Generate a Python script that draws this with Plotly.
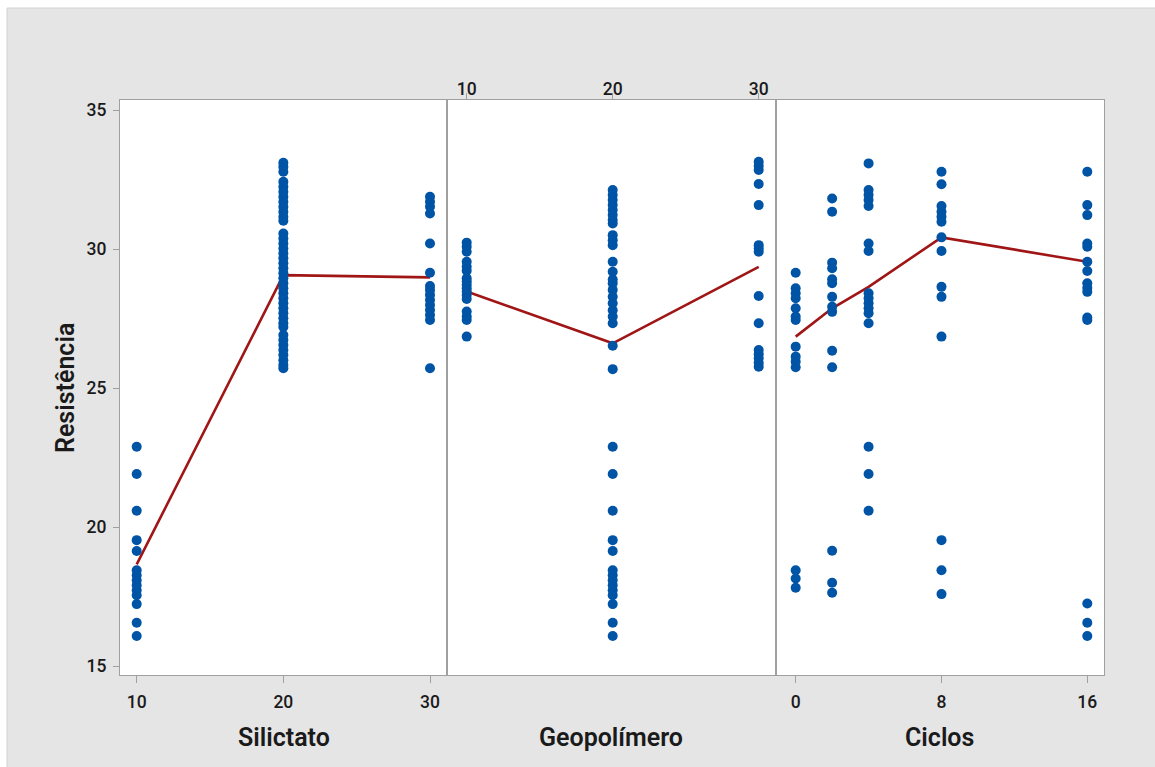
import plotly.graph_objects as go

# ---------------- data ----------------
silicato_levels = [10, 20, 30]
silicato_10 = [22.89, 21.91, 20.59, 19.53, 19.14, 18.45, 18.27, 18.09, 17.91, 17.73, 17.55, 17.23, 16.56, 16.08]
silicato_20 = [33.10, 32.96, 32.78, 32.42, 32.24, 32.06, 31.88, 31.70, 31.52, 31.34, 31.16, 31.02,
               30.56, 30.38, 30.20, 30.02, 29.84, 29.67, 29.49, 29.31, 29.13, 28.95, 28.77, 28.59,
               28.41, 28.23, 28.05, 27.87, 27.69, 27.51, 27.33, 27.20, 26.91, 26.73, 26.55, 26.37,
               26.19, 26.00, 25.83, 25.71]
silicato_30 = [31.88, 31.70, 31.52, 31.28, 30.20, 29.15, 28.67, 28.53, 28.35, 28.17, 27.99, 27.81,
               27.63, 27.45, 25.71]
silicato_means = [18.66, 29.06, 28.98]

geo_levels = [10, 20, 30]
geo_10 = [30.23, 30.08, 29.90, 29.54, 29.36, 29.22, 28.95, 28.83, 28.71, 28.59, 28.47, 28.35,
          28.20, 27.75, 27.57, 27.45, 26.85]
geo_20 = [32.12, 31.94, 31.76, 31.58, 31.40, 31.22, 31.04, 30.92, 30.50, 30.32, 30.14, 29.54,
          29.18, 28.90, 28.77, 28.53, 28.28, 28.05, 27.80, 27.57, 27.33, 26.52, 25.68, 22.89,
          21.91, 20.59, 19.53, 19.14, 18.45, 18.27, 18.09, 17.91, 17.73, 17.55, 17.23, 16.56, 16.08]
geo_30 = [33.14, 32.99, 32.84, 32.34, 31.58, 30.14, 30.02, 29.90, 28.31, 27.33, 26.37, 26.22,
          26.07, 25.91, 25.77]
geo_means = [28.47, 26.61, 29.36]

ciclos_levels = [0, 2, 4, 8, 16]
ciclos_0 = [29.15, 28.59, 28.41, 28.23, 27.87, 27.57, 27.45, 26.49, 26.13, 25.95, 25.75, 18.45, 18.15, 17.82]
ciclos_2 = [31.82, 31.34, 29.51, 29.31, 28.91, 28.77, 28.28, 27.92, 27.74, 26.34, 25.75, 19.15, 18.00, 17.64]
ciclos_4 = [33.08, 32.12, 31.94, 31.76, 31.55, 30.20, 29.93, 28.41, 28.23, 28.05, 27.87, 27.69,
            27.33, 22.89, 21.91, 20.59]
ciclos_8 = [32.78, 32.33, 31.55, 31.34, 31.16, 30.98, 30.42, 29.93, 28.64, 28.28, 26.85, 19.53, 18.45, 17.59]
ciclos_16 = [32.78, 31.58, 31.22, 30.20, 30.08, 29.54, 29.21, 28.77, 28.60, 28.46, 27.54, 27.45,
             17.25, 16.56, 16.08]
ciclos_means = [26.85, 27.87, 28.64, 30.42, 29.54]

panel_titles = ["Silictato", "Geopolímero", "Ciclos"]
y_title = "Resistência"
y_ticks = [15, 20, 25, 30, 35]
silicato_ticks = [10, 20, 30]
geo_ticks = [10, 20, 30]
ciclos_ticks = [0, 8, 16]

# ---------------- styling ----------------
W, H = 1155, 767
ML, MR, MT, MB = 120, 51, 100, 92
DOT = "#0054a6"
LINE = "#a01616"
BORDER = "#a0a0a0"
BG = "#e5e5e5"
TXT = "#1a1a1a"
FONT = "Roboto"

panels = [
    (silicato_levels, [silicato_10, silicato_20, silicato_30], silicato_means),
    (geo_levels, [geo_10, geo_20, geo_30], geo_means),
    (ciclos_levels, [ciclos_0, ciclos_2, ciclos_4, ciclos_8, ciclos_16], ciclos_means),
]

fig = go.Figure()
for i, (levels, groups, means) in enumerate(panels):
    xa = "x" if i == 0 else f"x{i+1}"
    ya = "y" if i == 0 else f"y{i+1}"
    fig.add_trace(go.Scatter(x=levels, y=means, mode="lines", xaxis=xa, yaxis=ya,
                             line=dict(color=LINE, width=2.6), hoverinfo="skip", showlegend=False))
    xs, ys = [], []
    for lvl, vals in zip(levels, groups):
        xs += [lvl] * len(vals)
        ys += vals
    fig.add_trace(go.Scatter(x=xs, y=ys, mode="markers", xaxis=xa, yaxis=ya,
                             marker=dict(color=DOT, size=10, line=dict(width=0)),
                             showlegend=False))

pw = W - ML - MR
d1 = (447.3 - ML) / pw
d2 = (775.5 - ML) / pw
yr = [14.68, 35.36]

tickfont = dict(family=FONT, size=17.5, color=TXT, weight=500)
common_x = dict(showline=True, linecolor=BORDER, linewidth=1.3, mirror=True, showgrid=False,
                zeroline=False, ticks="outside", ticklen=7, tickcolor=BORDER, tickwidth=1,
                tickfont=tickfont, ticklabelstandoff=4)
common_y = dict(showline=True, linecolor=BORDER, linewidth=1.3, mirror=True, showgrid=False,
                zeroline=False, range=yr, domain=[0, 1])

fig.update_layout(
    width=W, height=H,
    margin=dict(l=ML, r=MR, t=MT, b=MB),
    paper_bgcolor=BG, plot_bgcolor="white",
    xaxis=dict(common_x, domain=[0, d1], range=[8.861, 31.18], tickvals=silicato_ticks, anchor="y"),
    xaxis2=dict(common_x, domain=[d1, d2], range=[8.671, 31.15], tickvals=geo_ticks, anchor="y2",
                side="top", ticklen=6, ticklabelstandoff=-9),
    xaxis3=dict(common_x, domain=[d2, 1], range=[-1.108, 16.917], tickvals=ciclos_ticks, anchor="y3"),
    yaxis=dict(common_y, anchor="x", tickvals=y_ticks, ticks="outside", ticklen=6, tickcolor=BORDER,
               tickfont=tickfont, ticklabelstandoff=3),
    yaxis2=dict(common_y, anchor="x2", showticklabels=False, ticks=""),
    yaxis3=dict(common_y, anchor="x3", showticklabels=False, ticks=""),
    showlegend=False,
)

def px_x(p):
    return (p - ML) / pw
def px_y(p):
    return (H - MB - p) / (H - MT - MB)

# thin white outer strips (top and left) as in the reference frame
fig.add_shape(type="rect", xref="paper", yref="paper", layer="below",
              x0=px_x(-5), x1=px_x(W + 5), y0=px_y(8), y1=px_y(-5),
              fillcolor="white", line=dict(width=0))
fig.add_shape(type="rect", xref="paper", yref="paper", layer="below",
              x0=px_x(-5), x1=px_x(7), y0=px_y(H + 5), y1=px_y(-5),
              fillcolor="white", line=dict(width=0))
fig.add_shape(type="line", xref="paper", yref="paper", layer="below",
              x0=px_x(7), x1=px_x(W + 5), y0=px_y(8), y1=px_y(8),
              line=dict(color="#d2d2d2", width=1))
fig.add_shape(type="line", xref="paper", yref="paper", layer="below",
              x0=px_x(7), x1=px_x(7), y0=px_y(H + 5), y1=px_y(8),
              line=dict(color="#d2d2d2", width=1))

centers = [d1 / 2, (d1 + d2) / 2, (d2 + 1) / 2]
for c, t in zip(centers, panel_titles):
    fig.add_annotation(text=t, xref="paper", yref="paper", x=c, y=px_y(737), showarrow=False,
                       xanchor="center", yanchor="middle",
                       font=dict(family=FONT, size=25, color=TXT, weight=600))
fig.add_annotation(text=y_title, xref="paper", yref="paper", x=px_x(65), y=px_y(388), textangle=-90,
                   showarrow=False, xanchor="center", yanchor="middle",
                   font=dict(family=FONT, size=25, color=TXT, weight=600))

fig.write_html("out.html")
